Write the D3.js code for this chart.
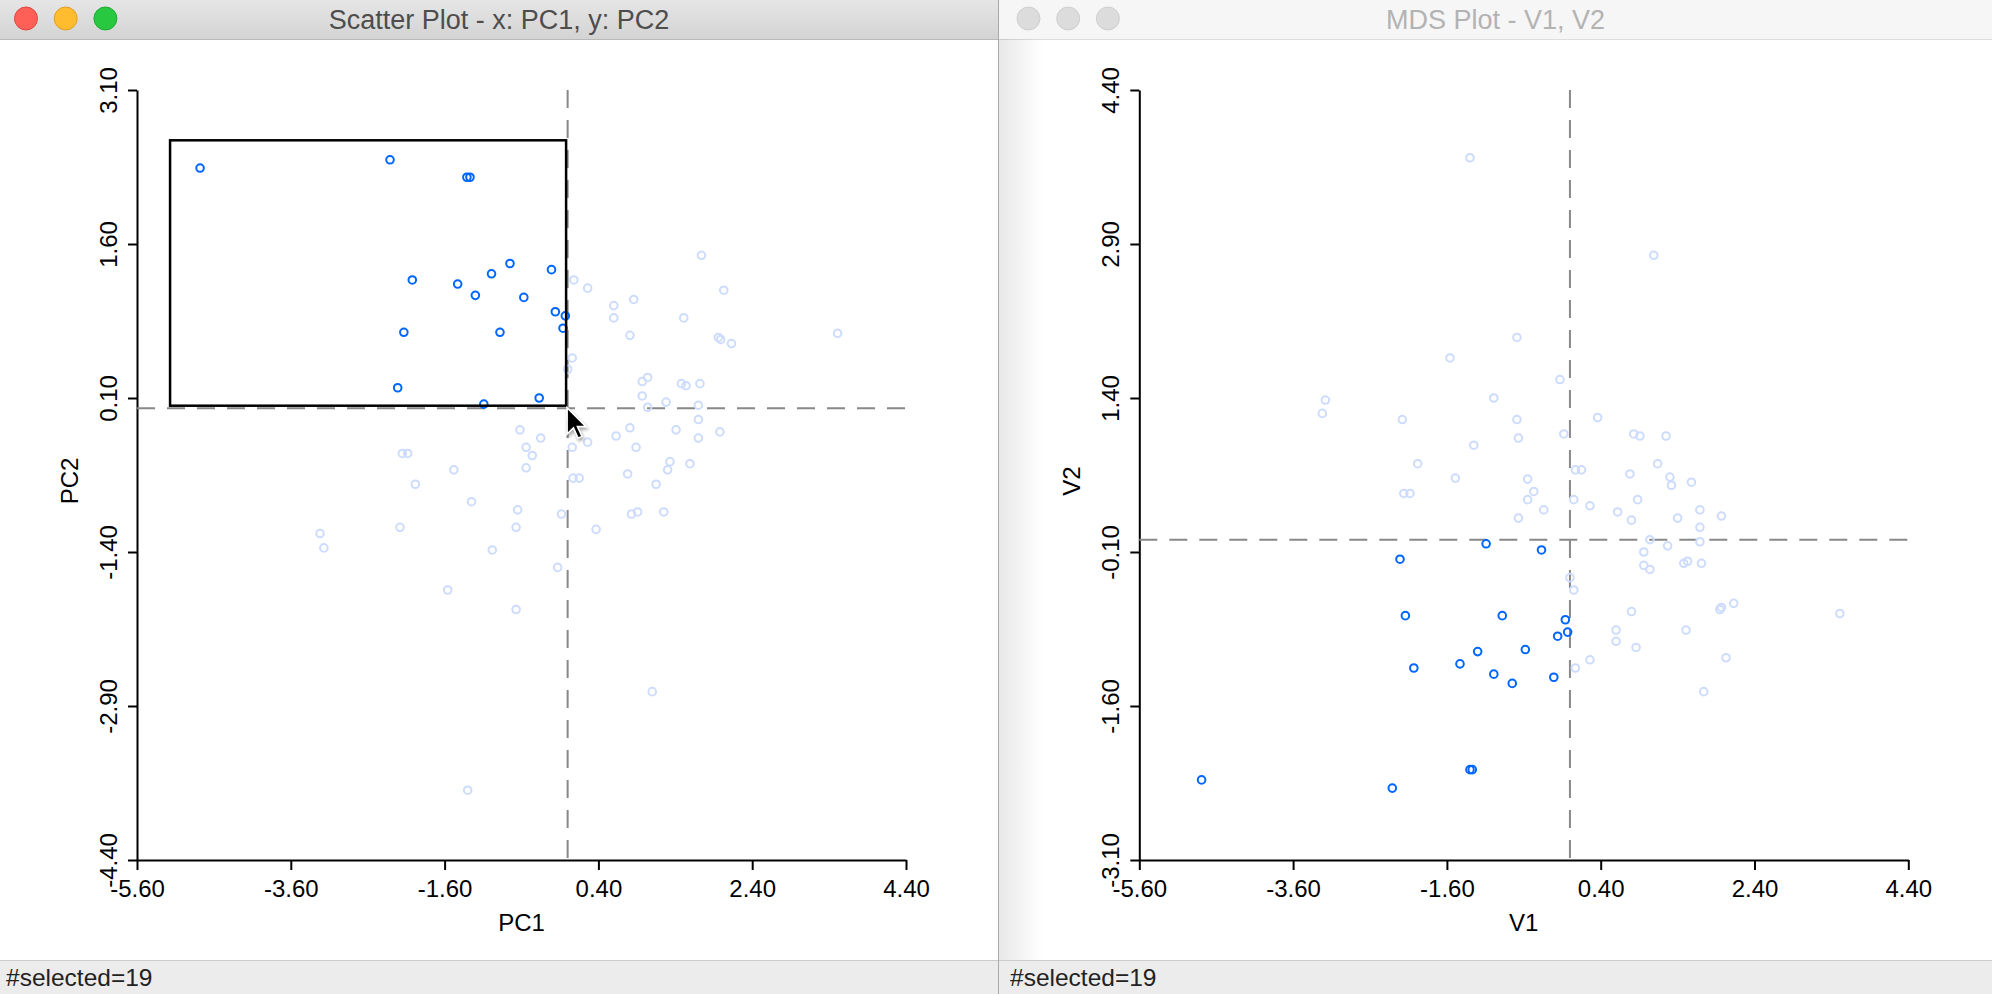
<!DOCTYPE html>
<html>
<head>
<meta charset="utf-8">
<script src="https://cdn.jsdelivr.net/npm/d3@7/dist/d3.min.js"></script>
<style>
  html, body { margin: 0; padding: 0; background: #fff; overflow: hidden; }
  svg { display: block; }
</style>
</head>
<body>
<svg id="chart" width="1992" height="994"></svg>
<script>
// ---- data (PC scatter + MDS) ----
const xTicks = [-5.6, -3.6, -1.6, 0.4, 2.4, 4.4];
const pcYTicks = [-4.4, -2.9, -1.4, 0.1, 1.6, 3.1];
const mdsYTicks = [-3.1, -1.6, -0.1, 1.4, 2.9, 4.4];

const pcMean = [0, 0];
const mdsMean = [0, 0.02];

// selection box drawn in the PC plot: [x0, x1], [y0, y1]
const brushX = [-5.17, -0.02];
const brushY = [0.025, 2.61];

const pcSelected = [
  [-4.78, 2.34], [-2.31, 2.42], [-1.31, 2.25], [-1.27, 2.25], [-2.02, 1.25],
  [-1.43, 1.21], [-0.99, 1.31], [-0.75, 1.41], [-1.20, 1.10], [-0.57, 1.08],
  [-2.13, 0.74], [-0.88, 0.74], [-2.21, 0.20], [-1.09, 0.04], [-0.37, 0.10],
  [-0.21, 1.35], [-0.16, 0.94], [-0.03, 0.90], [-0.06, 0.78]
];
const pcOther = [
  [1.74, 1.49], [0.08, 1.25], [0.26, 1.17], [2.03, 1.15], [0.60, 1.00],
  [0.86, 1.06], [0.60, 0.88], [1.51, 0.88], [0.81, 0.71], [3.51, 0.73],
  [1.96, 0.69], [1.99, 0.67], [2.13, 0.63], [0.06, 0.49], [0.00, 0.38],
  [0.97, 0.26], [1.04, 0.30], [1.48, 0.24], [1.54, 0.22], [1.72, 0.24],
  [0.97, 0.12], [1.28, 0.06], [1.70, 0.03], [1.04, 0.01], [1.70, -0.11],
  [0.81, -0.19], [1.41, -0.21], [-0.35, -0.29], [0.63, -0.27], [1.98, -0.23],
  [0.26, -0.33], [0.06, -0.38], [0.89, -0.38], [-0.46, -0.46], [1.33, -0.52],
  [1.59, -0.54], [1.30, -0.60], [0.78, -0.64], [0.07, -0.68], [0.15, -0.68],
  [1.15, -0.74], [1.70, -0.29], [-0.62, -0.21], [-2.15, -0.44], [-2.08, -0.44],
  [-0.54, -0.38], [-1.48, -0.60], [-0.54, -0.58], [-1.98, -0.74], [-1.25, -0.91],
  [-0.65, -0.99], [-3.22, -1.22], [-3.17, -1.36], [-2.18, -1.16], [-0.67, -1.16],
  [-0.98, -1.38], [-1.56, -1.77], [-0.67, -1.96], [-1.30, -3.72], [-0.08, -1.03],
  [0.83, -1.03], [0.91, -1.01], [1.25, -1.01], [0.37, -1.18], [-0.13, -1.55],
  [1.10, -2.76]
];

const mdsSelected = [
  [-1.09, -0.02], [-2.21, -0.17], [-2.14, -0.72], [-0.88, -0.72], [-1.20, -1.07],
  [-1.43, -1.19], [-2.03, -1.23], [-0.99, -1.29], [-0.75, -1.38], [-4.79, -2.32],
  [-2.31, -2.40], [-1.30, -2.22], [-1.27, -2.22], [-0.37, -0.08], [-0.06, -0.76],
  [-0.03, -0.88], [-0.16, -0.92], [-0.58, -1.05], [-0.21, -1.32]
];
const mdsOther = [
  [-1.30, 3.74], [-0.69, 1.99], [-1.56, 1.79], [-3.18, 1.38], [-3.22, 1.25],
  [-2.18, 1.19], [-0.99, 1.40], [-0.69, 1.19], [-0.67, 1.01], [-1.25, 0.94],
  [-1.98, 0.76], [-1.49, 0.62], [1.09, 2.79], [-0.13, 1.58], [0.36, 1.21],
  [-0.08, 1.05], [0.83, 1.05], [0.91, 1.03], [1.25, 1.03], [1.14, 0.76],
  [0.07, 0.70], [0.15, 0.70], [0.78, 0.66], [-0.55, 0.61], [1.30, 0.63],
  [1.58, 0.58], [-2.16, 0.47], [-2.08, 0.47], [-0.67, 0.23], [-0.47, 0.49],
  [-0.55, 0.41], [-0.34, 0.31], [0.05, 0.41], [0.26, 0.35], [0.62, 0.29],
  [0.88, 0.41], [0.80, 0.21], [1.32, 0.55], [1.69, 0.31], [1.97, 0.25],
  [1.40, 0.23], [1.69, 0.14], [1.04, 0.02], [1.27, -0.04], [1.69, 0.00],
  [0.96, -0.10], [0.96, -0.23], [1.04, -0.27], [1.48, -0.21], [1.53, -0.19],
  [1.71, -0.21], [0.00, -0.35], [0.05, -0.47], [0.80, -0.68], [1.95, -0.66],
  [1.97, -0.64], [2.13, -0.60], [3.51, -0.70], [0.60, -0.86], [1.51, -0.86],
  [0.60, -0.97], [0.86, -1.03], [0.26, -1.15], [0.07, -1.23], [2.03, -1.13],
  [1.74, -1.46]
];

// ---- look ----
const FONT = "'Liberation Sans', Arial, Helvetica, sans-serif";
const SEL = "#0066ff", DIM = "#cddcfd", DASH = "#888888";

const svg = d3.select("#chart");
const defs = svg.append("defs");
const tb = defs.append("linearGradient").attr("id", "tbActive").attr("x1", 0).attr("y1", 0).attr("x2", 0).attr("y2", 1);
tb.append("stop").attr("offset", "0%").attr("stop-color", "#e6e6e6");
tb.append("stop").attr("offset", "100%").attr("stop-color", "#d3d3d3");
const sh = defs.append("linearGradient").attr("id", "edgeShadow");
sh.append("stop").attr("offset", "0%").attr("stop-color", "#000").attr("stop-opacity", 0.09);
sh.append("stop").attr("offset", "100%").attr("stop-color", "#000").attr("stop-opacity", 0);

function drawWindow(x0, w, active, title) {
  const g = svg.append("g");
  g.append("rect").attr("x", x0).attr("y", 0).attr("width", w).attr("height", 994).attr("fill", "#fff");
  g.append("rect").attr("x", x0).attr("y", 0).attr("width", w).attr("height", 39)
    .attr("fill", active ? "url(#tbActive)" : "#f6f6f6");
  g.append("line").attr("x1", x0).attr("x2", x0 + w).attr("y1", 39.5).attr("y2", 39.5)
    .attr("stroke", active ? "#b9b9b9" : "#dedede");
  const lights = active
    ? [["#fe5f57", "#e1463f"], ["#febc2e", "#dfa024"], ["#28c840", "#1eaa31"]]
    : [["#dcdcdc", "#cfcfcf"], ["#dcdcdc", "#cfcfcf"], ["#dcdcdc", "#cfcfcf"]];
  lights.forEach(([f, s], i) => {
    g.append("circle").attr("cx", x0 + (active ? 26 : 29.5) + i * 39.7).attr("cy", 18.5).attr("r", 11.5)
      .attr("fill", f).attr("stroke", s).attr("stroke-width", 1);
  });
  g.append("text").attr("x", x0 + w / 2).attr("y", 29).attr("text-anchor", "middle")
    .attr("font-family", "'Helvetica Neue', 'Liberation Sans', Arial, sans-serif").attr("font-size", 27)
    .attr("fill", active ? "#4d4d4d" : "#b3b3b3").text(title);
  // status bar
  g.append("rect").attr("x", x0).attr("y", 960).attr("width", w).attr("height", 34).attr("fill", "#ececec");
  g.append("line").attr("x1", x0).attr("x2", x0 + w).attr("y1", 960.5).attr("y2", 960.5).attr("stroke", "#cbcbcb");
  g.append("text").attr("x", x0 + (active ? 6 : 11)).attr("y", 986).attr("font-family", FONT).attr("font-size", 24.5)
    .attr("fill", "#222").text("#selected=" + pcSelected.length);
  return g;
}

function drawPlot({ left, yTicks, mean, selected, other, xLabel, yLabel, brush }) {
  const x = d3.scaleLinear().domain([xTicks[0], xTicks[xTicks.length - 1]]).range([left, left + 769]);
  const y = d3.scaleLinear().domain([yTicks[0], yTicks[yTicks.length - 1]]).range([860, 90]);
  const fmt = (d) => d.toFixed(2);
  const g = svg.append("g");

  const gx = g.append("g").attr("transform", "translate(0,860)")
    .call(d3.axisBottom(x).tickValues(xTicks).tickFormat(fmt).tickSize(10).tickSizeOuter(0));
  gx.selectAll("text").attr("y", 37).attr("dy", 0);

  const gy = g.append("g").attr("transform", `translate(${left},0)`)
    .call(d3.axisLeft(y).tickValues(yTicks).tickFormat(fmt).tickSize(9).tickSizeOuter(0));
  gy.selectAll("text").attr("transform", "rotate(-90)").attr("x", 0).attr("y", -20)
    .attr("dy", 0).attr("text-anchor", "middle");

  [gx, gy].forEach((a) => {
    a.selectAll("path,line").attr("stroke", "#000").attr("stroke-width", 2);
    a.selectAll("text").attr("fill", "#000").attr("font-family", FONT).attr("font-size", 24);
  });

  g.append("text").attr("x", (x.range()[0] + x.range()[1]) / 2).attr("y", 931).attr("text-anchor", "middle")
    .attr("font-family", FONT).attr("font-size", 24).attr("fill", "#000").text(xLabel);
  g.append("text").attr("transform", `translate(${left - 59},481) rotate(-90)`).attr("text-anchor", "middle")
    .attr("font-family", FONT).attr("font-size", 24).attr("fill", "#000").text(yLabel);

  // mean lines
  g.append("line").attr("x1", x(mean[0])).attr("x2", x(mean[0])).attr("y1", y.range()[1]).attr("y2", y.range()[0])
    .attr("stroke", DASH).attr("stroke-width", 2).attr("stroke-dasharray", "18 12");
  g.append("line").attr("x1", x.range()[0]).attr("x2", x.range()[1]).attr("y1", y(mean[1])).attr("y2", y(mean[1]))
    .attr("stroke", DASH).attr("stroke-width", 2).attr("stroke-dasharray", "18 12");

  const dot = (data, color) => g.append("g").selectAll("circle").data(data).join("circle")
    .attr("cx", (d) => x(d[0])).attr("cy", (d) => y(d[1])).attr("r", 3.8)
    .attr("fill", "none").attr("stroke", color).attr("stroke-width", 2);
  dot(other, DIM);
  dot(selected, SEL);

  if (brush) {
    const bx0 = x(brush.x[0]), bx1 = x(brush.x[1]), by0 = y(brush.y[1]), by1 = y(brush.y[0]);
    g.append("rect").attr("x", bx0).attr("y", by0).attr("width", bx1 - bx0).attr("height", by1 - by0)
      .attr("fill", "none").attr("stroke", "#000").attr("stroke-width", 2.5);
    // mouse pointer resting on the box corner
    g.append("path").attr("transform", `translate(${bx1 + 1},${by1 + 2}) scale(1.15)`)
      .attr("d", "M0,0 L0,23 L5.5,17.5 L9.5,26.5 L13,25 L9,16.5 L16.5,16.5 Z")
      .attr("fill", "#000").attr("stroke", "#fff").attr("stroke-width", 1.4)
      .style("filter", "drop-shadow(1px 2px 1.5px rgba(0,0,0,0.35))");
  }
}

drawWindow(0, 998, true, "Scatter Plot - x: PC1, y: PC2");
drawWindow(999, 993, false, "MDS Plot - V1, V2");
svg.append("rect").attr("x", 999).attr("y", 39).attr("width", 44).attr("height", 921).attr("fill", "url(#edgeShadow)");
svg.append("line").attr("x1", 998.5).attr("x2", 998.5).attr("y1", 0).attr("y2", 994).attr("stroke", "#a9a9a9");

drawPlot({ left: 137, yTicks: pcYTicks, mean: pcMean, selected: pcSelected, other: pcOther,
  xLabel: "PC1", yLabel: "PC2", brush: { x: brushX, y: brushY } });
drawPlot({ left: 1139.3, yTicks: mdsYTicks, mean: mdsMean, selected: mdsSelected, other: mdsOther,
  xLabel: "V1", yLabel: "V2" });
</script>
</body>
</html>
